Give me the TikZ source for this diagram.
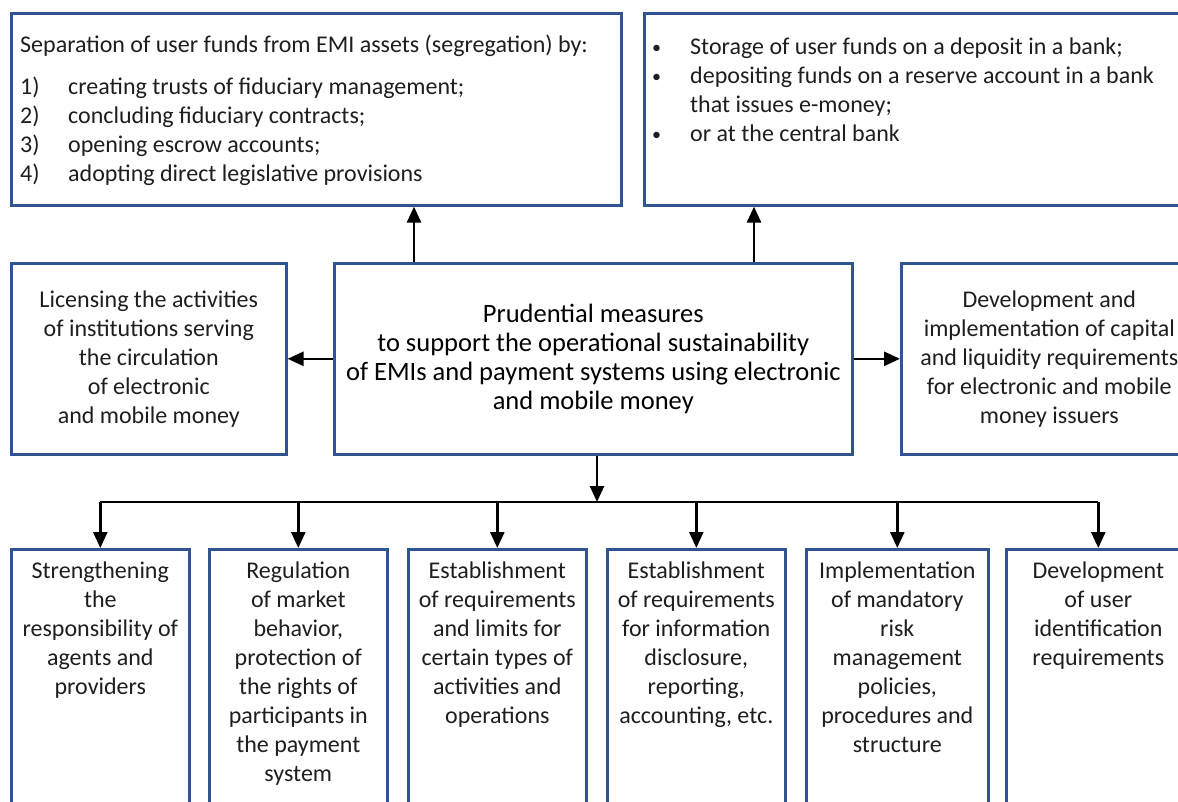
\documentclass[tikz,border=0pt]{standalone}
\usepackage{fontspec}
\setmainfont{Carlito}
\usetikzlibrary{arrows.meta}
\definecolor{boxblue}{RGB}{47,84,143}
\definecolor{txt}{RGB}{30,30,30}
\newcommand{\smallbul}{{\fontsize{18}{29}\selectfont\raisebox{1pt}{\textbullet}}}
\begin{document}
\begin{tikzpicture}[x=1pt,y=-1pt,
  every node/.style={font=\fontsize{24}{29}\selectfont, text=txt},
  box/.style={draw=boxblue, line width=2.6pt, anchor=north west, inner sep=0pt},
  arr/.style={line width=2.6pt, draw=black, -{Triangle[length=16pt,width=14pt]}},
  lbl/.style={inner sep=0pt, align=center}]
\useasboundingbox (0,0) rectangle (1178,801);
\clip (0,0) rectangle (1178,801);
% top boxes
\node[box, minimum width=610, minimum height=192] (tl) at (10,12) {};
\node[inner sep=0pt, anchor=north west] (tltext) at (20,32) {%
  \begin{tabular}{@{}p{48pt}@{}l@{}}
  \multicolumn{2}{@{}l@{}}{Separation of user funds from EMI assets (segregation) by:}\\[13pt]
  1) & creating trusts of fiduciary management;\\
  2) & concluding fiduciary contracts;\\
  3) & opening escrow accounts;\\
  4) & adopting direct legislative provisions
  \end{tabular}};
\node[box, minimum width=560, minimum height=192] (tr) at (643,12) {};
\node[inner sep=0pt, anchor=north west] (trtext) at (652,34) {%
  \begin{tabular}{@{}p{38pt}@{}l@{}}
  \smallbul & Storage of user funds on a deposit in a bank;\\
  \smallbul & depositing funds on a reserve account in a bank\\
   & that issues e-money;\\
  \smallbul & or at the central bank
  \end{tabular}};
% middle row
\node[box, minimum width=518, minimum height=191, align=center, text=black,
  font=\fontsize{26.5}{29}\selectfont] (c) at (333,262)
  {Prudential measures\\to support the operational sustainability\\of EMIs and payment systems using electronic\\and mobile money};
\node[box, minimum width=275, minimum height=191, align=center] (ml) at (10,262)
  {Licensing the activities\\of institutions serving\\the circulation\\of electronic\\and mobile money};
\node[box, minimum width=296, minimum height=191, align=center] (mr) at (900,262)
  {Development and\\implementation of capital\\and liquidity requirements\\for electronic and mobile\\money issuers};
% bottom row
\node[box, minimum width=178, minimum height=280] (b1) at (10,548) {};
\node[box, minimum width=178, minimum height=280] (b2) at (208,548) {};
\node[box, minimum width=178, minimum height=280] (b3) at (407,548) {};
\node[box, minimum width=178, minimum height=280] (b4) at (606,548) {};
\node[box, minimum width=182, minimum height=280] (b5) at (805,548) {};
\node[box, minimum width=184, minimum height=280] (b6) at (1005,548) {};
\node[lbl, anchor=north] (t1) at (b1.north |- 0,562) {Strengthening\\the\\responsibility of\\agents and\\providers};
\node[lbl, anchor=north] (t2) at (b2.north |- 0,562) {Regulation\\of market\\behavior,\\protection of\\the rights of\\participants in\\the payment\\system};
\node[lbl, anchor=north] (t3) at (b3.north |- 0,562) {Establishment\\of requirements\\and limits for\\certain types of\\activities and\\operations};
\node[lbl, anchor=north] (t4) at (b4.north |- 0,562) {Establishment\\of requirements\\for information\\disclosure,\\reporting,\\accounting, etc.};
\node[lbl, anchor=north] (t5) at (b5.north |- 0,562) {Implementation\\of mandatory\\risk\\management\\policies,\\procedures and\\structure};
\node[lbl, anchor=north] (t6) at (b6.north |- 0,562) {Development\\of user\\identification\\requirements};
% connectors
\coordinate (upL) at (414,262);
\coordinate (upR) at (754,262);
\draw[arr] (upL) -- (upL |- tl.south);
\draw[arr] (upR) -- (upR |- tr.south);
\draw[arr] (c.west) -- (ml.east);
\draw[arr] (c.east) -- (mr.west);
\coordinate (bus) at (597,502);
\draw[arr] (c.south -| bus) -- (bus);
\draw[line width=2.6pt] (b1.north |- bus) -- (b6.north |- bus);
\foreach \b in {b1,b2,b3,b4,b5,b6}{
  \draw[arr] (\b.north |- bus) -- (\b.north);
}
\end{tikzpicture}
\end{document}
